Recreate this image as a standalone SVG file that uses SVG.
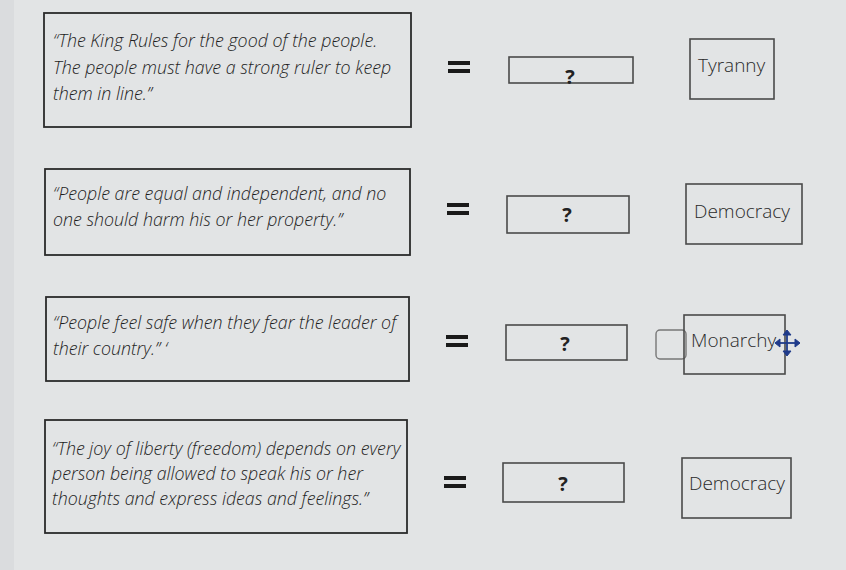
<svg xmlns="http://www.w3.org/2000/svg" width="846" height="570" viewBox="0 0 846 570">
<style>
.bg{fill:#e2e4e5}
.q{fill:none;stroke:#2b2b2b;stroke-width:1.8}
.a{fill:none;stroke:#4a4a4a;stroke-width:1.6}
.t{font-family:"Open Sans","Liberation Sans",sans-serif;font-style:italic;font-weight:300;font-size:17.8px;fill:#1e1e1e}
.w{font-family:"Open Sans","Liberation Sans",sans-serif;font-weight:300;font-size:19px;fill:#2a2a2a}
.qm{font-family:"Open Sans","Liberation Sans",sans-serif;font-weight:bold;font-size:20px;fill:#222;text-anchor:middle}
.eq{fill:#1a1a1a}
</style>
<rect class="bg" x="0" y="0" width="846" height="570"/>
<rect x="0" y="0" width="14" height="570" fill="#dadcde"/>
<g id="quote1">
<rect class="q" x="44" y="13" width="367" height="114"/>
<text class="t" x="53" y="47">“The King Rules for the good of the people.</text>
<text class="t" x="53" y="74">The people must have a strong ruler to keep</text>
<text class="t" x="53" y="100">them in line.”</text>
</g>
<g id="quote2">
<rect class="q" x="45" y="169" width="365" height="86"/>
<text class="t" x="53" y="200">“People are equal and independent, and no</text>
<text class="t" x="53" y="226">one should harm his or her property.”</text>
</g>
<g id="quote3">
<rect class="q" x="46" y="297" width="363" height="84"/>
<text class="t" x="53" y="329">“People feel safe when they fear the leader of</text>
<text class="t" x="53" y="355">their country.” ‘</text>
</g>
<g id="quote4">
<rect class="q" x="45" y="420" width="362" height="113"/>
<text class="t" x="52" y="455">“The joy of liberty (freedom) depends on every</text>
<text class="t" x="52" y="480">person being allowed to speak his or her</text>
<text class="t" x="52" y="505">thoughts and express ideas and feelings.”</text>
</g>
<g id="equals">
<rect class="eq" x="448" y="61" width="22" height="4"/><rect class="eq" x="448" y="69" width="22" height="4"/>
<rect class="eq" x="447" y="203" width="22" height="4"/><rect class="eq" x="447" y="211" width="22" height="4"/>
<rect class="eq" x="446" y="335" width="22" height="4"/><rect class="eq" x="446" y="343" width="22" height="4"/>
<rect class="eq" x="444" y="476" width="22" height="4"/><rect class="eq" x="444" y="484" width="22" height="4"/>
</g>
<g id="answer1"><rect class="a" x="509" y="57" width="124" height="26"/><text class="qm" x="570" y="84">?</text></g>
<g id="answer2"><rect class="a" x="507" y="196" width="122" height="37"/><text class="qm" x="567" y="222">?</text></g>
<g id="answer3"><rect class="a" x="506" y="325" width="121" height="35"/><text class="qm" x="565" y="351">?</text></g>
<g id="answer4"><rect class="a" x="503" y="463" width="121" height="39"/><text class="qm" x="563" y="491">?</text></g>
<g id="tyranny"><rect class="a" x="690" y="39" width="84" height="60"/><text class="w" x="698" y="72">Tyranny</text></g>
<g id="democracy1"><rect class="a" x="686" y="184" width="116" height="60"/><text class="w" x="694" y="218">Democracy</text></g>
<g id="monarchy">
<rect x="656" y="330" width="30" height="29" rx="4" fill="none" stroke="#777" stroke-width="1.4"/>
<rect class="a" x="684" y="315" width="101" height="59" fill="#e2e4e5"/>
<text class="w" x="691" y="347">Monarchy</text>
<g fill="#1f3a8a" stroke="#1f3a8a" stroke-width="1.8">
<line x1="787" y1="334" x2="787" y2="353"/><line x1="778" y1="343" x2="797" y2="343"/>
<path d="M787 330 l-4 5 h8z M787 356 l-4 -5 h8z M775 343 l5 -4 v8z M800 343 l-5 -4 v8z" stroke-width="1"/>
</g>
</g>
<g id="democracy2"><rect class="a" x="682" y="458" width="109" height="60"/><text class="w" x="689" y="490">Democracy</text></g>
<g id="connectors"></g>
</svg>
